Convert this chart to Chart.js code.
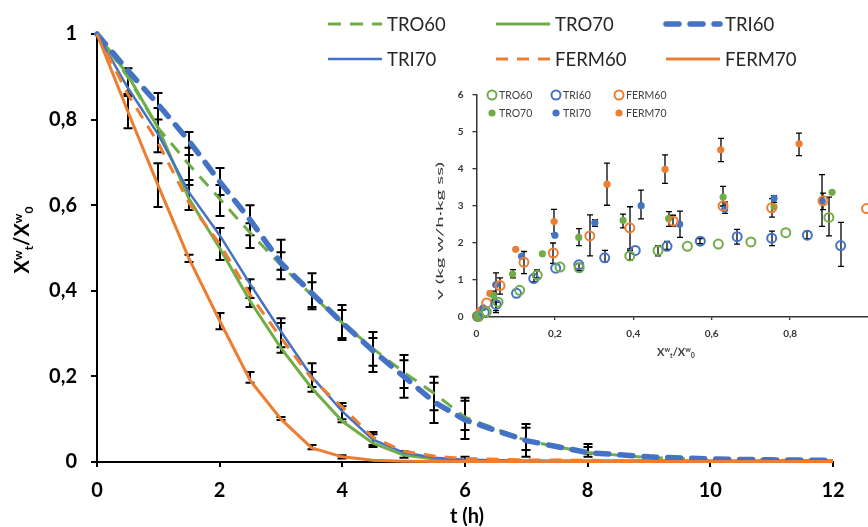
<!DOCTYPE html>
<html>
<head>
<meta charset="utf-8">
<script src="https://cdn.jsdelivr.net/npm/chart.js@4.4.1/dist/chart.umd.min.js"></script>
<style>
  html, body { margin: 0; padding: 0; background: #fff; overflow: hidden; }
  #wrap { position: relative; width: 868px; height: 527px; overflow: hidden; }
  #mainChart { position: absolute; left: 0; top: 0; }
  #insetChart { position: absolute; left: 430px; top: 80px; }
</style>
</head>
<body>
<div id="wrap">
  <canvas id="mainChart" width="868" height="527"></canvas>
  <canvas id="insetChart" width="470" height="290"></canvas>
</div>
<script>
// Main chart data: Xw_t/Xw_0 vs drying time
const times = [0, 0.5, 1, 1.5, 2, 2.5, 3, 3.5, 4, 4.5, 5, 5.5, 6, 7, 8, 9, 10, 11, 12];
const tro60 = [1, 0.9, 0.78, 0.695, 0.615, 0.535, 0.46, 0.39, 0.325, 0.265, 0.21, 0.16, 0.105, 0.05, 0.022, 0.01, 0.006, 0.004, 0.003];
const tro70 = [1, 0.905, 0.78, 0.615, 0.5, 0.375, 0.266, 0.173, 0.095, 0.044, 0.016, 0.007, 0.004, 0.002, 0.002, 0.002, 0.002, 0.002, 0.002];
const tri60 = [1, 0.915, 0.835, 0.75, 0.655, 0.565, 0.465, 0.395, 0.325, 0.26, 0.2, 0.14, 0.098, 0.05, 0.022, 0.012, 0.007, 0.005, 0.004];
const tri70 = [1, 0.875, 0.765, 0.63, 0.53, 0.415, 0.305, 0.2, 0.118, 0.052, 0.022, 0.01, 0.005, 0.003, 0.003, 0.003, 0.003, 0.003, 0.003];
const ferm60 = [1, 0.86, 0.745, 0.605, 0.51, 0.39, 0.29, 0.195, 0.128, 0.058, 0.025, 0.014, 0.008, 0.005, 0.004, 0.003, 0.003, 0.003, 0.003];
const ferm70 = [1, 0.82, 0.645, 0.475, 0.33, 0.19, 0.1, 0.033, 0.012, 0.004, 0.002, 0.001, 0.001, 0.001, 0.001, 0.001, 0.001, 0.001, 0.001];

// Main chart error bars (time, low, high)
const errTimes = [0.5, 0.5, 1, 1, 1, 1.5, 1.5, 1.5, 1.5, 2, 2, 2, 2, 2.5, 2.5, 2.5, 2.5, 2.5, 3, 3, 3, 3, 3, 3.5, 3.5, 3.5, 3.5, 3.5, 4, 4, 4, 4, 4, 4.5, 4.5, 4.5, 4.5, 5, 5, 5, 5.5, 5.5, 6, 6, 6, 7, 7, 8, 8];
const errLow = [0.855, 0.78, 0.8, 0.724, 0.596, 0.717, 0.647, 0.589, 0.467, 0.575, 0.624, 0.472, 0.31, 0.5, 0.53, 0.362, 0.383, 0.185, 0.427, 0.449, 0.255, 0.268, 0.098, 0.357, 0.362, 0.164, 0.175, 0.03, 0.285, 0.29, 0.093, 0.1, 0.008, 0.21, 0.225, 0.035, 0.04, 0.15, 0.173, 0.01, 0.091, 0.121, 0.054, 0.075, 0.002, 0.012, 0.028, 0.012, 0.02];
const errHigh = [0.92, 0.86, 0.862, 0.827, 0.698, 0.771, 0.734, 0.659, 0.484, 0.687, 0.647, 0.547, 0.348, 0.6, 0.558, 0.427, 0.406, 0.21, 0.519, 0.49, 0.336, 0.325, 0.105, 0.441, 0.42, 0.231, 0.21, 0.04, 0.367, 0.355, 0.138, 0.13, 0.016, 0.304, 0.29, 0.07, 0.065, 0.25, 0.238, 0.025, 0.199, 0.185, 0.15, 0.143, 0.012, 0.089, 0.08, 0.042, 0.035];

// Inset data: drying rate v vs Xw_t/Xw_0
const tro60X = [0.006, 0.025, 0.055, 0.11, 0.155, 0.213, 0.262, 0.391, 0.463, 0.538, 0.617, 0.7, 0.789, 0.899];
const tro60V = [0.02, 0.14, 0.4, 0.72, 1.13, 1.35, 1.33, 1.65, 1.8, 1.91, 1.97, 2.03, 2.28, 2.69];
const tri60X = [0.004, 0.02, 0.05, 0.102, 0.146, 0.202, 0.261, 0.327, 0.405, 0.486, 0.571, 0.665, 0.753, 0.844, 0.929];
const tri60V = [0.02, 0.12, 0.34, 0.64, 1.04, 1.32, 1.41, 1.6, 1.8, 1.91, 2.05, 2.17, 2.13, 2.21, 1.93];
const ferm60X = [0.002, 0.026, 0.06, 0.121, 0.196, 0.289, 0.391, 0.502, 0.629, 0.753, 0.884, 0.995];
const ferm60V = [0.02, 0.38, 0.85, 1.48, 1.73, 2.19, 2.41, 2.59, 3.0, 2.95, 3.14, 2.93];
const tro70X = [0.006, 0.043, 0.092, 0.168, 0.261, 0.374, 0.49, 0.629, 0.759, 0.907];
const tro70V = [0.01, 0.58, 1.16, 1.71, 2.15, 2.61, 2.66, 3.24, 2.98, 3.37];
const tri70X = [0.004, 0.017, 0.049, 0.115, 0.2, 0.302, 0.42, 0.518, 0.633, 0.759, 0.882];
const tri70V = [0.01, 0.25, 0.87, 1.64, 2.21, 2.55, 3.01, 2.51, 2.91, 3.21, 3.13];
const ferm70X = [0, 0.008, 0.034, 0.1, 0.198, 0.333, 0.481, 0.623, 0.823];
const ferm70V = [0.01, 0.18, 0.64, 1.83, 2.58, 3.59, 3.99, 4.52, 4.68];

// Inset error bars (x, low, high)
const insetErrX = [0.333, 0.481, 0.623, 0.823, 0.198, 0.196, 0.289, 0.391, 0.121, 0.06, 0.502, 0.884, 0.753, 0.42, 0.518, 0.302, 0.049, 0.633, 0.759, 0.882, 0.629, 0.374, 0.49, 0.261, 0.092, 0.043, 0.899, 0.929, 0.753, 0.665, 0.463, 0.391, 0.327, 0.155, 0.147, 0.05, 0.844, 0.486, 0.571, 0.261];
const insetErrLow = [3.02, 3.61, 4.2, 4.36, 2.25, 1.45, 1.65, 1.84, 1.17, 0.62, 2.45, 2.9, 2.7, 2.65, 2.15, 2.45, 0.12, 2.8, 3.1, 2.45, 3.0, 2.41, 2.45, 1.93, 1.06, 0.45, 2.19, 1.37, 1.93, 1.97, 1.65, 1.54, 1.49, 1.06, 0.95, 0.17, 2.12, 1.83, 1.98, 1.25];
const insetErrHigh = [4.16, 4.38, 4.83, 4.97, 2.91, 2.0, 2.76, 2.98, 1.77, 1.06, 2.75, 3.35, 3.2, 3.43, 2.86, 2.63, 1.19, 3.11, 3.28, 3.85, 3.53, 2.78, 2.85, 2.39, 1.28, 0.7, 3.24, 2.56, 2.32, 2.37, 1.93, 1.8, 1.8, 1.27, 1.15, 0.4, 2.32, 2.04, 2.12, 1.45];

const GREEN = '#70AD47';
const BLUE = '#4472C4';
const ORANGE = '#ED7D31';
const FONT = 'Lato, "Open Sans", sans-serif';

Chart.defaults.font.family = FONT;

const decimalComma = (v) => String(Math.round(v * 10) / 10).replace('.', ',');
const toPoints = (xs, ys) => xs.map((x, i) => ({ x, y: ys[i] }));

// Draws X^w_t/X^w_0 with super/subscripts
function drawRatioLabel(ctx, cx, cy, size, rotated, color, weight) {
  const parts = [['X', 0], ['w', -1], ['t', 1], ['/X', 0], ['w', -1], ['0', 1]];
  const big = `${weight} ${size}px ${FONT}`;
  const small = `${weight} ${Math.round(size * 0.62)}px ${FONT}`;
  ctx.save();
  ctx.translate(cx, cy);
  if (rotated) ctx.rotate(-Math.PI / 2);
  ctx.fillStyle = color;
  ctx.textBaseline = 'alphabetic';
  ctx.textAlign = 'left';
  const widths = parts.map(([s, k]) => {
    ctx.font = k ? small : big;
    return ctx.measureText(s).width;
  });
  let x = -widths.reduce((a, b) => a + b, 0) / 2;
  const base = size * 0.36;
  parts.forEach(([s, k], i) => {
    ctx.font = k ? small : big;
    const dy = k === -1 ? -size * 0.36 : k === 1 ? size * 0.2 : 0;
    ctx.fillText(s, x, base + dy);
    x += widths[i];
  });
  ctx.restore();
}

// Error bars plugin, reads its arrays from plugin options
const errorBars = {
  id: 'errorBars',
  beforeDatasetsDraw(chart, args, opts) {
    const { ctx, scales: { x, y } } = chart;
    ctx.save();
    ctx.strokeStyle = '#000';
    ctx.lineWidth = opts.width;
    opts.xs.forEach((xv, i) => {
      const px = Math.round(x.getPixelForValue(xv));
      const y1 = y.getPixelForValue(opts.lo[i]);
      const y2 = y.getPixelForValue(opts.hi[i]);
      ctx.beginPath();
      ctx.moveTo(px, y1);
      ctx.lineTo(px, y2);
      ctx.moveTo(px - opts.cap, y1);
      ctx.lineTo(px + opts.cap, y1);
      ctx.moveTo(px - opts.cap, y2);
      ctx.lineTo(px + opts.cap, y2);
      ctx.stroke();
    });
    ctx.restore();
  },
};

// Main legend: 3 columns x 2 rows of line samples
const mainLegend = {
  id: 'mainLegend',
  afterDraw(chart) {
    const { ctx } = chart;
    const cols = [328, 496, 666];
    const rows = [24, 59];
    ctx.save();
    chart.data.datasets.forEach((ds, i) => {
      const x = cols[i % 3];
      const y = rows[Math.floor(i / 3)];
      ctx.strokeStyle = ds.borderColor;
      ctx.lineWidth = ds.borderWidth;
      ctx.lineCap = ds.borderCapStyle || 'butt';
      ctx.setLineDash(ds.borderDash || []);
      ctx.beginPath();
      ctx.moveTo(x, y);
      ctx.lineTo(x + 54, y);
      ctx.stroke();
      ctx.setLineDash([]);
      ctx.fillStyle = '#262626';
      ctx.font = `18.5px ${FONT}`;
      ctx.textBaseline = 'middle';
      ctx.fillText(ds.label, x + 59, y + 1);
    });
    ctx.restore();
  },
};

const mainTitles = {
  id: 'mainTitles',
  afterDraw(chart) {
    const { ctx } = chart;
    ctx.save();
    ctx.fillStyle = '#000';
    ctx.font = `bold 20px ${FONT}`;
    ctx.textAlign = 'center';
    ctx.textBaseline = 'middle';
    ctx.fillText('t (h)', 467, 517);
    ctx.restore();
    drawRatioLabel(ctx, 22, 240, 20, true, '#000', 'bold');
  },
};

const mainSeries = [
  { label: 'TRO60', values: tro60, color: GREEN, width: 3, dash: [13, 9], order: 4 },
  { label: 'TRO70', values: tro70, color: GREEN, width: 3, dash: [], order: 5 },
  { label: 'TRI60', values: tri60, color: BLUE, width: 5.5, dash: [13, 11], cap: 'round', order: 1 },
  { label: 'TRI70', values: tri70, color: BLUE, width: 2.5, dash: [], order: 3 },
  { label: 'FERM60', values: ferm60, color: ORANGE, width: 3, dash: [12, 9], order: 2 },
  { label: 'FERM70', values: ferm70, color: ORANGE, width: 3, dash: [], order: 0 },
];

new Chart(document.getElementById('mainChart'), {
  type: 'line',
  data: {
    datasets: mainSeries.map((s) => ({
      label: s.label,
      data: toPoints(times, s.values),
      borderColor: s.color,
      borderWidth: s.width,
      borderDash: s.dash,
      borderCapStyle: s.cap || 'butt',
      pointRadius: 0,
      tension: 0,
      fill: false,
      clip: false,
      order: s.order,
    })),
  },
  options: {
    responsive: false,
    animation: false,
    layout: { padding: { top: 34, right: 35, left: 0, bottom: 0 } },
    plugins: {
      legend: { display: false },
      tooltip: { enabled: false },
      errorBars: { xs: errTimes, lo: errLow, hi: errHigh, width: 2, cap: 4.5 },
    },
    scales: {
      x: {
        type: 'linear',
        min: 0,
        max: 12,
        afterFit: (s) => { s.height = 65; },
        ticks: { stepSize: 2, color: '#000', font: { size: 20, weight: 'bold' }, padding: 12, maxRotation: 0 },
        grid: { drawOnChartArea: false, tickLength: 5, color: '#000', lineWidth: 2 },
        border: { color: '#000', width: 2 },
      },
      y: {
        min: 0,
        max: 1,
        afterFit: (s) => { s.width = 97; },
        ticks: { stepSize: 0.2, color: '#000', font: { size: 20, weight: 'bold' }, padding: 14, callback: (v) => decimalComma(v) },
        grid: { drawOnChartArea: false, tickLength: 6, color: '#000', lineWidth: 2 },
        border: { color: '#000', width: 2 },
      },
    },
  },
  plugins: [errorBars, mainLegend, mainTitles],
});

// Inset chart
const insetSeries = [
  { label: 'TRO60', xs: tro60X, ys: tro60V, color: GREEN, open: true },
  { label: 'TRI60', xs: tri60X, ys: tri60V, color: BLUE, open: true },
  { label: 'FERM60', xs: ferm60X, ys: ferm60V, color: ORANGE, open: true },
  { label: 'TRO70', xs: tro70X, ys: tro70V, color: GREEN, open: false },
  { label: 'TRI70', xs: tri70X, ys: tri70V, color: BLUE, open: false },
  { label: 'FERM70', xs: ferm70X, ys: ferm70V, color: ORANGE, open: false },
];

const insetLegend = {
  id: 'insetLegend',
  afterDraw(chart) {
    const { ctx } = chart;
    const cols = [62, 126, 189];
    const rows = [15, 33];
    ctx.save();
    chart.data.datasets.forEach((ds, i) => {
      const x = cols[i % 3];
      const y = rows[Math.floor(i / 3)];
      ctx.beginPath();
      ctx.arc(x, y, ds.pointRadius, 0, Math.PI * 2);
      if (ds.pointBackgroundColor !== 'rgba(0,0,0,0)') {
        ctx.fillStyle = ds.pointBackgroundColor;
        ctx.fill();
      } else {
        ctx.strokeStyle = ds.pointBorderColor;
        ctx.lineWidth = ds.pointBorderWidth;
        ctx.stroke();
      }
      ctx.fillStyle = '#404040';
      ctx.font = `10.5px ${FONT}`;
      ctx.textBaseline = 'middle';
      ctx.fillText(ds.label, x + 7, y + 0.5);
    });
    ctx.restore();
  },
};

const insetTitles = {
  id: 'insetTitles',
  afterDraw(chart) {
    const { ctx } = chart;
    drawRatioLabel(ctx, 246, 272, 11, false, '#404040', 'bold');
    ctx.save();
    ctx.translate(10, 151);
    ctx.rotate(-Math.PI / 2);
    ctx.font = `10px ${FONT}`;
    ctx.fillStyle = '#333';
    ctx.textAlign = 'center';
    ctx.textBaseline = 'middle';
    const label = 'v (kg w/h·kg ss)';
    const stretch = 138 / ctx.measureText(label).width;
    ctx.scale(stretch, 1);
    ctx.fillText(label, 0, 0);
    ctx.restore();
  },
};

new Chart(document.getElementById('insetChart'), {
  type: 'scatter',
  data: {
    datasets: insetSeries.map((s) => ({
      label: s.label,
      data: toPoints(s.xs, s.ys),
      pointRadius: s.open ? 4.5 : 3.6,
      pointBorderWidth: s.open ? 2 : 0,
      pointBorderColor: s.color,
      pointBackgroundColor: s.open ? 'rgba(0,0,0,0)' : s.color,
      showLine: false,
      clip: false,
    })),
  },
  options: {
    responsive: false,
    animation: false,
    layout: { padding: { top: 8, right: 31.5, left: 0, bottom: 0 } },
    plugins: {
      legend: { display: false },
      tooltip: { enabled: false },
      errorBars: { xs: insetErrX, lo: insetErrLow, hi: insetErrHigh, width: 1.3, cap: 3 },
    },
    scales: {
      x: {
        type: 'linear',
        min: 0,
        max: 1,
        afterFit: (s) => { s.height = 53; },
        ticks: { stepSize: 0.2, color: '#333', font: { size: 10, weight: 'bold' }, padding: 8, maxRotation: 0, callback: (v) => (v >= 1 ? '' : decimalComma(v)) },
        grid: { drawOnChartArea: false, tickLength: 3, color: '#333', lineWidth: 1.3 },
        border: { color: '#333', width: 1.5 },
      },
      y: {
        min: 0,
        max: 6,
        afterFit: (s) => { s.width = 46.5; },
        ticks: { stepSize: 1, color: '#333', font: { size: 10, weight: 'bold' }, padding: 9 },
        grid: { drawOnChartArea: false, tickLength: 4, color: '#333', lineWidth: 1.3 },
        border: { color: '#333', width: 1.5 },
      },
    },
  },
  plugins: [errorBars, insetLegend, insetTitles],
});
</script>
</body>
</html>
